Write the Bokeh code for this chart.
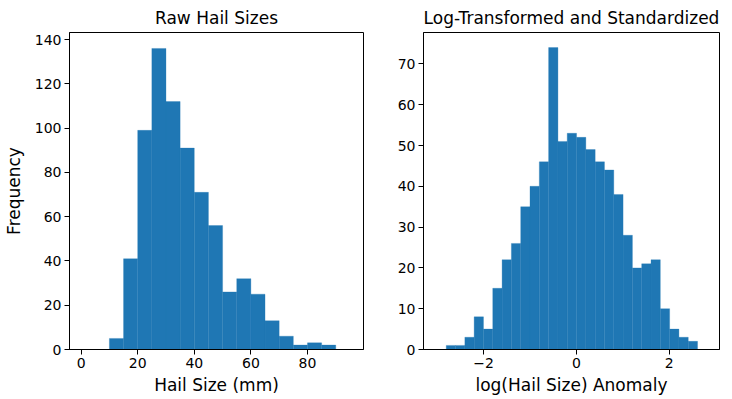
from bokeh.plotting import figure
from bokeh.layouts import row
from bokeh.models import FixedTicker, Range1d
from bokeh.embed import file_html
from bokeh.resources import INLINE

# ---- data ----
raw_edges = [10, 15, 20, 25, 30, 35, 40, 45, 50, 55, 60, 65, 70, 75, 80, 85, 90]
raw_counts = [5, 41, 99, 136, 112, 91, 71, 56, 26, 32, 25, 13, 6, 2, 3, 2]

log_edges = [-2.805, -2.605, -2.404, -2.204, -2.003, -1.803, -1.602, -1.402,
             -1.201, -1.001, -0.800, -0.600, -0.399, -0.199, 0.002, 0.202,
             0.403, 0.603, 0.804, 1.004, 1.205, 1.405, 1.606, 1.806, 2.007,
             2.207, 2.408, 2.608]
log_counts = [1, 1, 3, 8, 5, 15, 22, 26, 35, 40, 46, 74, 51, 53, 52, 49, 46,
              44, 38, 28, 20, 21, 22, 10, 5, 3, 2]

raw_xticks = [0, 20, 40, 60, 80]
raw_yticks = [0, 20, 40, 60, 80, 100, 120, 140]
log_xticks = [-2, 0, 2]
log_yticks = [0, 10, 20, 30, 40, 50, 60, 70]

BAR = "#1f77b4"
FONT = "DejaVu Sans"


def style(p, xticks, yticks):
    p.xgrid.visible = False
    p.ygrid.visible = False
    p.outline_line_color = "black"
    p.outline_line_width = 1
    p.title.text_font = FONT
    p.title.text_font_size = "17px"
    p.title.text_font_style = "normal"
    p.title.align = "center"
    p.title.text_color = "black"
    for ax in (p.xaxis[0], p.yaxis[0]):
        ax.axis_line_color = "black"
        ax.axis_line_width = 1
        ax.major_tick_line_color = "black"
        ax.major_tick_in = 0
        ax.major_tick_out = 5
        ax.minor_tick_line_color = None
        ax.major_label_text_font = FONT
        ax.major_label_text_font_size = "14px"
        ax.major_label_text_color = "black"
        ax.axis_label_text_font = FONT
        ax.axis_label_text_font_size = "17px"
        ax.axis_label_text_font_style = "normal"
        ax.axis_label_text_color = "black"
        ax.major_label_standoff = 3
    p.xaxis[0].major_label_standoff = 3
    p.xaxis[0].axis_label_standoff = 4
    p.xaxis[0].ticker = FixedTicker(ticks=xticks)
    p.yaxis[0].ticker = FixedTicker(ticks=yticks)


p1 = figure(title="Raw Hail Sizes", output_backend="svg", toolbar_location=None,
            frame_width=294, frame_height=317,
            min_border_left=69, min_border_right=10, min_border_top=26, min_border_bottom=0,
            x_range=Range1d(-4.1, 99.8), y_range=Range1d(0, 143.2))
p1.quad(left=raw_edges[:-1], right=raw_edges[1:], top=raw_counts, bottom=0,
        fill_color=BAR, line_color=BAR, line_width=0.3)
style(p1, raw_xticks, raw_yticks)
p1.xaxis.axis_label = "Hail Size (mm)"
p1.yaxis.axis_label = "Frequency"
p1.yaxis.axis_label_standoff = 8

p2 = figure(title="Log-Transformed and Standardized", output_backend="svg", toolbar_location=None,
            frame_width=296, frame_height=317,
            min_border_left=50, min_border_right=1, min_border_top=26, min_border_bottom=0,
            x_range=Range1d(-3.295, 3.081), y_range=Range1d(0, 77.7))
p2.quad(left=log_edges[:-1], right=log_edges[1:], top=log_counts, bottom=0,
        fill_color=BAR, line_color=BAR, line_width=0.3)
style(p2, log_xticks, log_yticks)
p2.xaxis.axis_label = "log(Hail Size) Anomaly"
p2.xaxis.major_label_overrides = {-2: "\u22122", 0: "0", 2: "2"}

layout = row(p1, p2)
open("out.html", "w").write(file_html(layout, INLINE))
